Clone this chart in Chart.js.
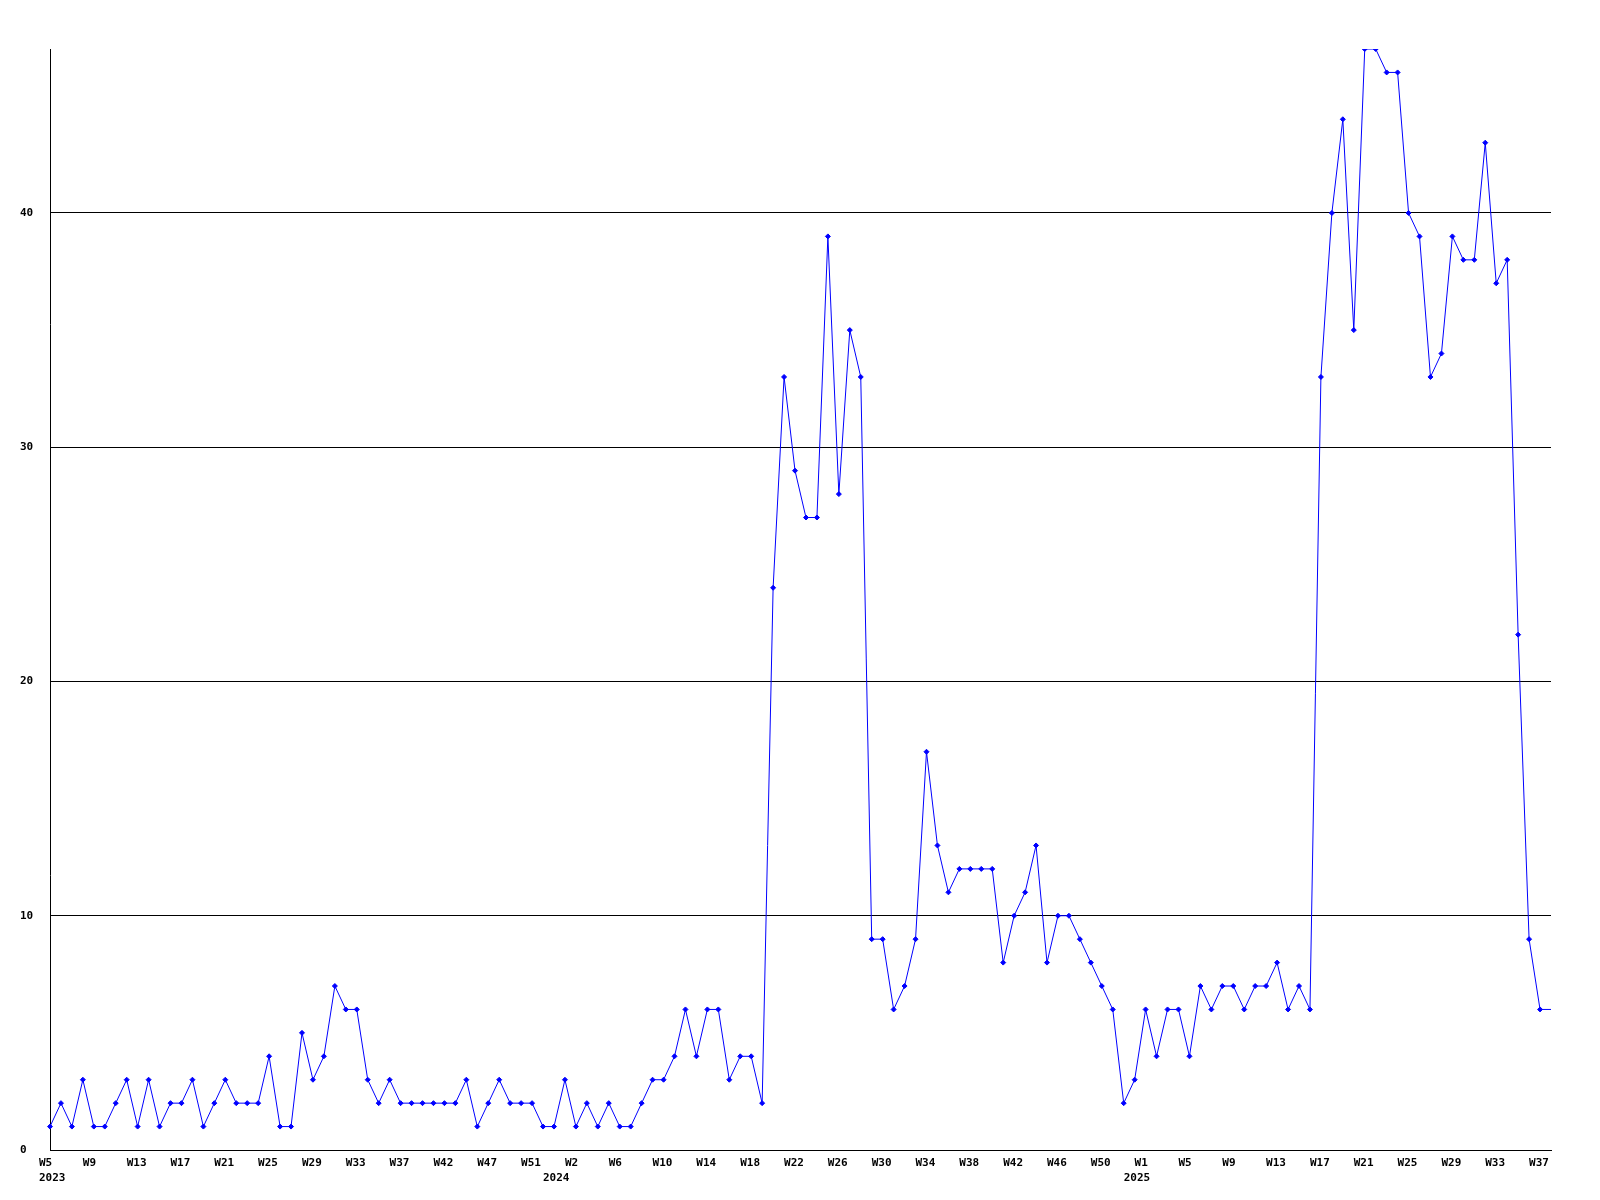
<!DOCTYPE html>
<html>
<head>
<meta charset="utf-8">
<title>Weekly count</title>
<script src="https://cdn.jsdelivr.net/npm/chart.js@4/dist/chart.umd.min.js"></script>
<style>
    html, body { margin: 0; padding: 0; background: #fff; }
    canvas { display: block; }
</style>
</head>
<body>
<canvas id="chart" width="1600" height="1200"></canvas>
<script>
// weekly values, 2023 W5 .. 2025 W37 (last point is the running week)
const counts = [
    1, 2, 1, 3, 1, 1, 2, 3, 1, 3, 1, 2, 2, 3, 1, 2, 3, 2, 2, 2, 4, 1, 1, 5, 3, 4, 7, 6, 6, 3, 2, 3, 2, 2, 2,
    2, 2, 2, 3, 1, 2, 3, 2, 2, 2, 1, 1, 3, 1, 2, 1, 2, 1, 1, 2, 3, 3, 4, 6, 4, 6, 6, 3, 4, 4, 2,
    24, 33, 29, 27, 27, 39, 28, 35, 33,
    9, 9, 6, 7, 9, 17, 13, 11, 12, 12, 12, 12, 8, 10, 11, 13, 8, 10, 10, 9, 8, 7, 6, 2, 3,
    6, 4, 6, 6, 4, 7, 6, 7, 7, 6, 7, 7, 8, 6, 7, 6,
    33, 40, 44, 35, 47, 47, 46, 46, 40, 39, 33, 34, 39, 38, 38, 43, 37, 38, 22, 9, 6, 6
];
const categories = counts.map((_, i) => i);

// one week label every 4 points
const tickLabels = [
    'W5', 'W9', 'W13', 'W17', 'W21', 'W25', 'W29', 'W33', 'W37', 'W42', 'W47', 'W51',
    'W2', 'W6', 'W10', 'W14', 'W18', 'W22', 'W26', 'W30', 'W34', 'W38', 'W42', 'W46', 'W50',
    'W1', 'W5', 'W9', 'W13', 'W17', 'W21', 'W25', 'W29', 'W33', 'W37'
];
const tickEvery = 4;

const yearLabels = ['2023', '2024', '2025'];
const yearStart = [0, 46, 99];

const yMax = 47;
const yStep = 10;

const FONT = 'bold 11px "DejaVu Sans Mono", "Liberation Mono", monospace';

// week and year labels under the x axis
const xLabelsPlugin = {
    id: 'xLabels',
    afterDraw(chart) {
        const ctx = chart.ctx;
        const x = chart.scales.x;
        const bottom = chart.chartArea.bottom;
        ctx.save();
        ctx.font = FONT;
        ctx.fillStyle = '#000';
        ctx.textAlign = 'left';
        ctx.textBaseline = 'alphabetic';
        tickLabels.forEach((t, i) => {
            ctx.fillText(t, x.getPixelForValue(i * tickEvery) - 11, bottom + 16);
        });
        yearLabels.forEach((t, i) => {
            ctx.fillText(t, x.getPixelForValue(yearStart[i]) - 11, bottom + 31);
        });
        ctx.restore();
    }
};

new Chart(document.getElementById('chart'), {
    type: 'line',
    data: {
        labels: categories,
        datasets: [{
            data: counts,
            borderColor: '#0000ff',
            backgroundColor: '#0000ff',
            borderWidth: 1,
            tension: 0,
            fill: false,
            pointStyle: 'rectRot',
            pointRadius: ctx => ctx.dataIndex === counts.length - 1 ? 0 : 2.5,
            pointBorderWidth: 1,
            pointBorderColor: '#0000ff',
            pointBackgroundColor: '#0000ff'
        }]
    },
    options: {
        responsive: false,
        animation: false,
        layout: { padding: { left: 20, right: 49, top: 49, bottom: 50 } },
        plugins: {
            legend: { display: false },
            tooltip: { enabled: false }
        },
        scales: {
            x: {
                type: 'category',
                offset: false,
                grid: { display: false, drawTicks: false },
                border: { display: true, color: '#000', width: 1 },
                ticks: { display: false }
            },
            y: {
                min: 0,
                max: yMax,
                afterFit(scale) { scale.width = 30; },
                grid: { color: '#000', lineWidth: 1, drawTicks: false },
                border: { display: true, color: '#000', width: 1 },
                ticks: {
                    stepSize: yStep,
                    includeBounds: false,
                    crossAlign: 'far',
                    padding: 0,
                    color: '#000',
                    font: { family: '"DejaVu Sans Mono", "Liberation Mono", monospace', size: 11, weight: 'bold' }
                }
            }
        }
    },
    plugins: [xLabelsPlugin]
});
</script>
</body>
</html>
